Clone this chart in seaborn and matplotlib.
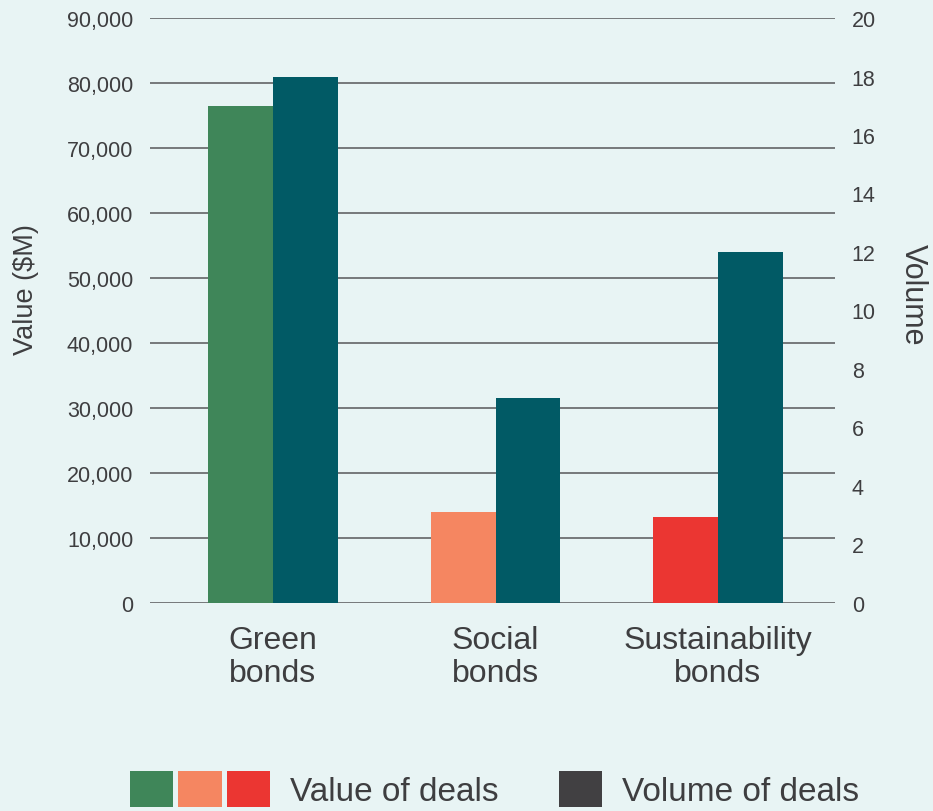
import matplotlib
matplotlib.use("Agg")
import matplotlib.pyplot as plt
import seaborn as sns
import pandas as pd
from matplotlib.patches import Patch
from matplotlib.legend_handler import HandlerTuple
from matplotlib.ticker import FuncFormatter

# ---- data ----
categories = ["Green\nbonds", "Social\nbonds", "Sustainability\nbonds"]
deal_values = [76500, 14000, 13200]      # $M
deal_volumes = [18, 7, 12]               # number of deals
value_colors = ["#3F8659", "#F58661", "#EB3632"]
volume_color = "#015A65"
legend_volume_color = "#414042"
left_ticks = list(range(0, 90001, 10000))
right_ticks = list(range(0, 21, 2))
series_names = ["Value", "Volume"]
legend_labels = ["Value of deals", "Volume of deals"]

bg = "#E8F4F4"
text_color = "#3E3E40"
grid_color = "#6D6E71"

sns.set_style("white")
plt.rcParams["font.family"] = ["Liberation Sans", "DejaVu Sans"]
plt.rcParams["text.color"] = text_color
plt.rcParams["axes.labelcolor"] = text_color
plt.rcParams["xtick.color"] = text_color
plt.rcParams["ytick.color"] = text_color

df = pd.DataFrame({
    "category": categories * 2,
    "series": [series_names[0]] * 3 + [series_names[1]] * 3,
    "amount": deal_values + deal_volumes,
})

fig = plt.figure(figsize=(9.33, 8.12), dpi=100, facecolor=bg)
ax = fig.add_axes([150 / 933, 1 - 604 / 812, 685 / 933, 585 / 812])
ax.set_facecolor(bg)
ax2 = ax.twinx()

pal = {series_names[0]: value_colors[0], series_names[1]: volume_color}
common = dict(x="category", y="amount", hue="series", hue_order=series_names,
              order=categories, dodge=True, width=0.584, palette=pal,
              errorbar=None, legend=False, saturation=1)
sns.barplot(data=df[df.series == series_names[0]], ax=ax, **common)
sns.barplot(data=df[df.series == series_names[1]], ax=ax2, **common)

# color value bars per category
bars = sorted(ax.patches, key=lambda p: p.get_x())
for p, c in zip(bars, value_colors):
    p.set_facecolor(c)
    p.set_edgecolor("none")
for p in ax2.patches:
    p.set_edgecolor("none")

ax.set_xlim(-0.553, 2.526)
ax.set_ylim(0, 90000)
ax2.set_ylim(0, 20)
ax.set_yticks(left_ticks)
ax2.set_yticks(right_ticks)
ax.yaxis.set_major_formatter(FuncFormatter(lambda v, _: f"{v:,.0f}"))

for a in (ax, ax2):
    for s in a.spines.values():
        s.set_visible(False)

ax.yaxis.grid(True, color=grid_color, lw=1.3)
ax.xaxis.grid(False)
ax2.grid(False)
ax.set_axisbelow(True)

ax.tick_params(axis="y", length=0, pad=12, labelsize=15.5)
ax.tick_params(axis="x", length=0, pad=16, labelsize=23)
ax2.tick_params(axis="y", length=0, pad=12, labelsize=15.5)
for lbl in ax.get_xticklabels():
    lbl.set_linespacing(1.12)

ax.set_xlabel("")
ax.set_ylabel("Value ($M)", fontsize=19.5, labelpad=20, y=0.537)
ax2.set_xlabel("")
ax2.set_ylabel("Volume", fontsize=22, rotation=270, va="bottom", labelpad=16, y=0.528)

# legends
h_value = tuple(Patch(facecolor=c, edgecolor="none") for c in value_colors)
fig.legend([h_value], [legend_labels[0]],
           handler_map={tuple: HandlerTuple(ndivide=None, pad=0.15)},
           loc="upper left", bbox_to_anchor=(130 / 933, 1 - 772 / 812),
           frameon=False, fontsize=24, handlelength=4.2, handleheight=1.3,
           handletextpad=0.6, borderpad=0, borderaxespad=0, labelcolor=text_color)
fig.legend([Patch(facecolor=legend_volume_color, edgecolor="none")], [legend_labels[1]],
           loc="upper left", bbox_to_anchor=(559 / 933, 1 - 772 / 812),
           frameon=False, fontsize=24, handlelength=1.3, handleheight=1.3,
           handletextpad=0.6, borderpad=0, borderaxespad=0, labelcolor=text_color)

fig.savefig("out.png", dpi=100, facecolor=bg)
